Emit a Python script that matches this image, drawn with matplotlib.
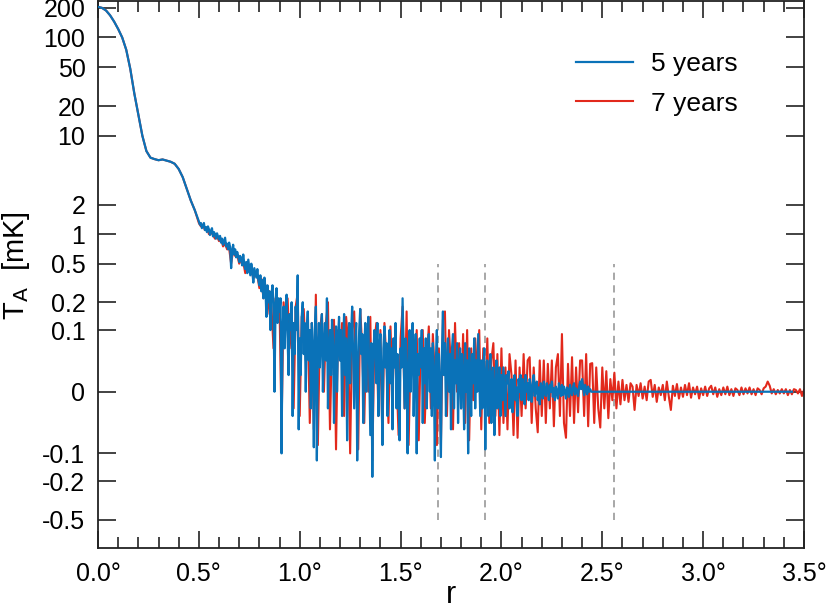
import numpy as np
import matplotlib
matplotlib.use("Agg")
import matplotlib.pyplot as plt
from matplotlib.ticker import FixedLocator, FixedFormatter, MultipleLocator, NullLocator

plt.rcParams['font.family'] = ['Liberation Sans', 'DejaVu Sans']

# smooth core of the profile, shared by both maps (mK)
r_head = [0.00, 0.02, 0.04, 0.06, 0.08, 0.10, 0.12, 0.14, 0.16, 0.18, 0.20, 0.22,
          0.24, 0.26, 0.28, 0.30, 0.32, 0.34, 0.36, 0.38, 0.40, 0.42, 0.44, 0.46, 0.48]
t_head = [205, 200, 188, 168, 145, 122, 100, 75, 48, 27, 16.5, 10,
          7.0, 6.0, 5.8, 5.65, 5.75, 5.6, 5.45, 5.2, 4.6, 3.8, 2.9, 2.2, 1.75]

# 5 years: noisy part, every 0.005 deg from 0.50
t_5yr = [1.35, 1.25, 1.3, 1.15, 1.22, 1.3, 1.1, 1.18, 1.05, 1.2, 1.12, 0.98, 1.08, 1.15, 0.95, 1.05, 1.0, 0.9, 1.02, 0.95,
         0.88, 0.96, 0.82, 0.9, 0.78, 0.85, 0.92, 0.75, 0.8, 0.7, 0.82, 0.74, 0.45, 0.68, 0.78, 0.62, 0.7, 0.58, 0.66, 0.6,
         0.52, 0.6, 0.55, 0.48, 0.62, 0.5, 0.44, 0.52, 0.4, 0.55, 0.46, 0.38, 0.5, 0.42, 0.32, 0.45, 0.4, 0.36, 0.44, 0.34,
         0.3, 0.38, 0.26, 0.34, 0.22, 0.36, 0.28, 0.14, 0.3, 0.2, 0.26, 0.1, 0.24, 0.3, 0.2, 0.0, 0.18, 0.28, 0.12, 0.22,
         0.16, 0.22, -0.1, 0.1, 0.18, 0.06, 0.14, 0.24, 0.08, 0.02, 0.15, 0.1, 0.2, -0.03, 0.12, 0.05, 0.18, 0.1, 0.38, -0.05,
         0.08, 0.02, 0.14, 0.2, 0.05, 0.12, 0.0, 0.1, 0.16, 0.04, 0.1, -0.02, 0.12, 0.06, -0.085, 0.1, 0.18, -0.12, 0.06, 0.12,
         0.03, 0.09, 0.15, 0.0, 0.07, 0.12, 0.04, 0.22, -0.02, 0.06, 0.1, 0.02, 0.13, 0.08, -0.04, 0.05, 0.11, 0.0, 0.08, 0.14,
         0.04, 0.1, -0.03, 0.06, 0.15, 0.02, 0.08, -0.07, 0.05, 0.12, 0.01, 0.09, 0.18, 0.04, -0.02, 0.07, 0.12, -0.12, 0.03, 0.1,
         0.17, 0.05, 0.09, -0.04, 0.06, 0.12, 0.0, 0.08, 0.14, 0.02, -0.06, 0.07, -0.18, 0.04, 0.1, 0.06, 0.01, 0.12, -0.03, 0.06,
         0.09, 0.02, -0.08, 0.06, 0.11, 0.03, 0.07, -0.03, 0.05, 0.1, 0.01, 0.06, -0.05, 0.08, 0.03, 0.12, -0.02, 0.05, 0.0, -0.07,
         0.06, 0.03, 0.22, 0.05, -0.02, 0.08, 0.02, -0.1, 0.06, 0.1, 0.0, 0.07, 0.12, -0.03, 0.04, 0.09, -0.1, 0.05, 0.02, 0.08,
         0.03, 0.1, -0.04, 0.06, 0.01, 0.08, -0.02, 0.05, 0.09, 0.0, 0.06, -0.03, 0.07, 0.02, -0.12, 0.04, 0.1, -0.02, 0.05, 0.01,
         -0.11, 0.05, 0.16, 0.02, 0.07, -0.03, 0.04, 0.08, 0.0, 0.05, -0.05, 0.06, 0.09, -0.02, 0.04, 0.01, 0.07, -0.04, 0.03, 0.06,
         -0.02, 0.05, 0.02, -0.05, 0.07, 0.0, 0.04, -0.1, 0.06, 0.02, -0.03, 0.05, 0.01, 0.08, -0.02, 0.04, 0.0, 0.09, 0.02, -0.03,
         0.04, -0.02, 0.03, 0.06, -0.09, 0.02, 0.04, -0.03, 0.01, 0.05, -0.04, 0.02, 0.03, -0.06, 0.0, 0.04, -0.02, 0.01, 0.03, -0.03,
         0.02, -0.01, 0.03, 0.0, -0.03, 0.02, 0.01, 0.025, -0.02, 0.0, 0.015, -0.025, 0.01, 0.02, -0.01, 0.005, -0.03, 0.015, 0.0, 0.02,
         -0.01, 0.015, 0.005, -0.015, 0.02, 0.0, 0.01, -0.01, 0.015, 0.005, -0.012, 0.01, 0.02, -0.005, 0.0, 0.012, -0.01, 0.005, -0.015, 0.01,
         0.005, -0.008, 0.012, 0.0, -0.005, 0.01, 0.003, -0.01, 0.008, 0.0, 0.012, -0.006, 0.004, -0.01, 0.006, 0.0, -0.008, 0.01, 0.002, -0.005,
         0.008, -0.004, 0.006, 0.0, -0.008, 0.005, 0.002, -0.006, 0.008, 0.0, -0.004, 0.006, 0.01, -0.003, 0.004, 0.0, -0.005, 0.006, 0.012, 0.003,
         0.015, 0.005, -0.004, 0.008, 0.002, -0.003, 0.006, 0.0, 0.003, 0.0, 0.0]
# 5-year map is flat beyond its noisy range
r_5yr_tail = [2.46, 3.44]
t_5yr_tail = [0.0, 0.0]

# 7 years: noisy part, every 0.01 deg from 0.50
t_7yr = [1.3, 1.2, 1.25, 1.1, 1.15, 1.0, 1.05, 0.98, 0.9, 0.95,
         0.85, 0.9, 0.75, 0.8, 0.7, 0.72, 0.5, 0.68, 0.6, 0.62,
         0.5, 0.55, 0.52, 0.4, 0.5, 0.42, 0.45, 0.35, 0.4, 0.38,
         0.28, 0.35, 0.22, 0.3, 0.15, 0.26, 0.18, 0.06, 0.22, 0.15,
         0.18, -0.05, 0.2, 0.1, 0.22, 0.06, 0.13, -0.02, 0.18, 0.25,
         -0.03, 0.14, 0.17, 0.04, 0.13, -0.04, 0.12, -0.05, 0.24, -0.08,
         0.1, 0.15, 0.0, 0.12, 0.2, -0.05, 0.08, 0.13, -0.09, 0.1,
         0.04, 0.12, -0.03, 0.14, 0.07, -0.1, 0.1, 0.16, 0.02, -0.09,
         0.17, 0.06, -0.04, 0.1, 0.0, 0.14, -0.12, 0.07, 0.12, -0.03,
         0.1, -0.07, 0.12, 0.04, -0.04, 0.11, 0.0, 0.08, 0.02, -0.06,
         0.08, 0.18, -0.02, 0.16, -0.08, 0.06, 0.1, 0.0, 0.1, -0.07,
         0.07, 0.1, -0.04, 0.04, 0.11, -0.02, 0.09, 0.02, -0.08, 0.06,
         -0.08, 0.13, 0.16, -0.03, 0.1, 0.03, -0.05, 0.12, 0.0, 0.07,
         -0.02, 0.09, -0.04, 0.1, -0.07, 0.06, -0.01, 0.08, 0.02, 0.1,
         -0.05, 0.06, -0.02, 0.08, -0.04, 0.04, 0.07, -0.03, 0.05, -0.06,
         0.06, -0.04, 0.03, -0.05, 0.05, 0.02, -0.06, 0.04, -0.065, 0.03,
         -0.03, 0.05, -0.02, 0.04, 0.045, -0.04, 0.03, -0.02, -0.055, 0.04,
         -0.03, 0.04, -0.04, 0.035, -0.02, 0.04, -0.045, 0.03, 0.05, -0.03,
         0.09, -0.04, -0.065, 0.035, -0.03, 0.045, -0.04, 0.03, -0.025, 0.04,
         0.04, -0.03, 0.05, -0.045, 0.035, 0.036, -0.04, 0.03, -0.02, -0.047,
         0.03, -0.02, 0.025, -0.033, 0.015, -0.01, 0.023, -0.02, 0.012, -0.015,
         0.014, -0.01, 0.008, -0.012, 0.01, 0.006, -0.022, 0.008, -0.005, 0.01,
         -0.008, 0.006, -0.01, 0.012, 0.014, -0.006, 0.008, -0.012, 0.005, -0.004,
         0.008, -0.01, 0.012, -0.006, -0.022, 0.007, -0.005, 0.009, -0.008, 0.005,
         -0.006, 0.008, -0.004, 0.01, -0.007, 0.005, -0.003, 0.006, -0.008, 0.004,
         -0.004, 0.006, -0.005, 0.004, 0.007, -0.003, 0.005, -0.006, 0.003, -0.004,
         0.005, -0.003, 0.006, -0.004, 0.003, -0.005, 0.004, 0.002, -0.004, 0.005,
         -0.003, 0.004, -0.002, 0.005, -0.003, 0.003, -0.004, 0.004, 0.002, -0.003,
         0.004, 0.006, 0.012, 0.007, -0.002, 0.003, -0.003, 0.002, -0.002, 0.003,
         -0.002, 0.003, -0.004, 0.002, -0.003, 0.003, 0.002, -0.002, 0.003, -0.005,
         0.002]

r_marks = [1.686, 1.919, 2.558]
y_ticks = [200, 100, 50, 20, 10, 2, 1, 0.5, 0.2, 0.1, 0, -0.1, -0.2, -0.5]
y_ticklabels = ['200', '100', '50', '20', '10', '2', '1', '0.5', '0.2', '0.1',
                '0', '-0.1', '-0.2', '-0.5']
x_ticks = [0.0, 0.5, 1.0, 1.5, 2.0, 2.5, 3.0, 3.5]
x_ticklabels = ['%.1f°' % v for v in x_ticks]

blue = '#0a72b8'
red = '#e2291c'

r5 = np.concatenate([r_head, np.round(0.50 + 0.005 * np.arange(len(t_5yr)), 3), r_5yr_tail])
T5 = np.concatenate([t_head, t_5yr, t_5yr_tail])
r7 = np.concatenate([r_head, np.round(0.50 + 0.01 * np.arange(len(t_7yr)), 2)])
T7 = np.concatenate([t_head, t_7yr])

fig = plt.figure(figsize=(8.29, 6.13), dpi=100)
ax = fig.add_axes([98/829, 65/613, 706/829, 547/613])

ax.plot(r7, T7, color=red, lw=1.5, label='7 years', zorder=2)
ax.plot(r5, T5, color=blue, lw=1.6, label='5 years', zorder=3)
ax.vlines(r_marks, -0.5, 0.5, colors='#a0a0a0', linestyles=(0, (4, 3)), lw=1.3, zorder=1)

ax.set_yscale('asinh', linear_width=0.05)
ax.set_ylim(-0.97, 235)
ax.set_xlim(0, 3.5)

ax.yaxis.set_major_locator(FixedLocator(y_ticks))
ax.yaxis.set_major_formatter(FixedFormatter(y_ticklabels))
ax.yaxis.set_minor_locator(NullLocator())
ax.xaxis.set_major_locator(FixedLocator(x_ticks))
ax.xaxis.set_major_formatter(FixedFormatter(x_ticklabels))
ax.xaxis.set_minor_locator(MultipleLocator(0.1))

ax.tick_params(which='both', direction='in', top=True, right=True, colors='#222222',
               labelcolor='black', labelsize=18, width=1.2)
ax.tick_params(axis='y', which='major', length=13, pad=9)
ax.tick_params(axis='x', which='major', length=12, pad=10)
ax.tick_params(axis='x', which='minor', length=8)
for s in ax.spines.values():
    s.set_linewidth(1.3)
    s.set_color('#222222')

ax.set_xlabel('r', fontsize=22, labelpad=-4)
ax.set_ylabel(r'T$_\mathrm{A}$  [mK]', fontsize=21)
ax.yaxis.set_label_coords(-0.093, 0.517)

h, l = ax.get_legend_handles_labels()
ax.legend(h[::-1], l[::-1], loc='upper left', bbox_to_anchor=(0.677, 0.907), frameon=False,
          fontsize=19, handlelength=2.16, handletextpad=0.68, labelspacing=0.6,
          borderpad=0, borderaxespad=0)

fig.savefig('out.png', dpi=100)
